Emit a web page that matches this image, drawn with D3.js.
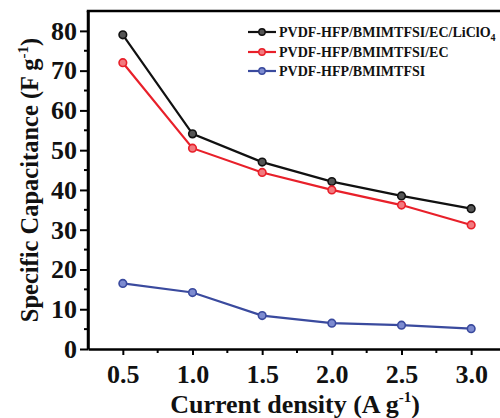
<!DOCTYPE html>
<html><head><meta charset="utf-8">
<script src="https://cdn.jsdelivr.net/npm/d3@7"></script>
<style>body{margin:0;background:#fff;}svg{display:block;}</style>
</head><body><svg id="c" width="500" height="418"></svg>
<script>
const xValues = [0.5, 1.0, 1.5, 2.0, 2.5, 3.0];
const seriesNames = ["PVDF-HFP/BMIMTFSI/EC/LiClO", "PVDF-HFP/BMIMTFSI/EC", "PVDF-HFP/BMIMTFSI"];
const blackValues = [79.0, 54.1, 47.0, 42.1, 38.5, 35.3];
const redValues = [72.0, 50.5, 44.4, 40.0, 36.2, 31.2];
const blueValues = [16.5, 14.2, 8.4, 6.5, 6.0, 5.1];
const xTicks = [0.5, 1.0, 1.5, 2.0, 2.5, 3.0];
const yTicks = [0, 10, 20, 30, 40, 50, 60, 70, 80];
const colors = ["#111111", "#e8202a", "#3a4a9e"];
const fills = ["#555555", "#f27a7f", "#7d8bd0"];

const svg = d3.select("#c");
const L = 88, T = 11, B = 349, R = 506;
const x = d3.scaleLinear().domain([0.25, 3.25]).range([L, R]);
const y = d3.scaleLinear().domain([0, 85]).range([B, T]);
const font = "'Liberation Serif','Times New Roman',serif";

// minor ticks
const xMinor = d3.range(0.75, 3.25, 0.5);
const yMinor = d3.range(5, 85, 10);
const gx = svg.append("g").attr("transform", `translate(0,${B})`)
  .call(d3.axisBottom(x).tickValues(xTicks).tickFormat(d3.format(".1f")).tickSize(6).tickPadding(10).tickSizeOuter(0));
gx.append("g").selectAll("line").data(xMinor).join("line")
  .attr("x1", d => x(d)).attr("x2", d => x(d)).attr("y1", 0).attr("y2", 4)
  .attr("stroke", "#000").attr("stroke-width", 2);
const gy = svg.append("g").attr("transform", `translate(${L},0)`)
  .call(d3.axisLeft(y).tickValues(yTicks).tickSize(8).tickPadding(3).tickSizeOuter(0));
gy.append("g").selectAll("line").data(yMinor).join("line")
  .attr("y1", d => y(d)).attr("y2", d => y(d)).attr("x1", 0).attr("x2", -4)
  .attr("stroke", "#000").attr("stroke-width", 2);
[gx, gy].forEach(g => {
  g.select(".domain").attr("stroke", "#000").attr("stroke-width", 2.5);
  g.selectAll(".tick line").attr("stroke", "#000").attr("stroke-width", 2);
  g.selectAll(".tick text").attr("font-family", font).attr("font-weight", "bold")
    .attr("font-size", 26).attr("fill", "#111");
});
svg.append("line").attr("x1", L).attr("x2", L).attr("y1", T).attr("y2", B)
  .attr("stroke", "#000").attr("stroke-width", 2.5);
svg.append("line").attr("x1", L - 1.25).attr("x2", R).attr("y1", T).attr("y2", T)
  .attr("stroke", "#000").attr("stroke-width", 2.5);

// series
const all = [blackValues, redValues, blueValues];
const line = d3.line().x((d, i) => x(xValues[i])).y(d => y(d));
all.forEach((vals, k) => {
  svg.append("path").datum(vals).attr("d", line).attr("fill", "none")
    .attr("stroke", colors[k]).attr("stroke-width", 2.2);
  svg.append("g").selectAll("circle").data(vals).join("circle")
    .attr("cx", (d, i) => x(xValues[i])).attr("cy", d => y(d)).attr("r", 3.8)
    .attr("fill", fills[k]).attr("stroke", colors[k]).attr("stroke-width", 1.6);
});

// legend
const legY = [32, 52, 71];
seriesNames.forEach((name, k) => {
  const g = svg.append("g").attr("transform", `translate(0,${legY[k]})`);
  g.append("line").attr("x1", 248).attr("x2", 276).attr("stroke", colors[k]).attr("stroke-width", 2.2);
  g.append("circle").attr("cx", 262).attr("r", 3.2).attr("fill", fills[k]).attr("stroke", colors[k]).attr("stroke-width", 1.4);
  const t = g.append("text").attr("x", 279).attr("y", 5).attr("font-family", font)
    .attr("font-weight", "bold").attr("font-size", 14).attr("fill", "#111").text(name);
  if (k === 0) t.append("tspan").attr("font-size", 10).attr("dy", 4).text("4");
});

// axis titles
const xt = svg.append("text").attr("x", 295).attr("y", 413).attr("text-anchor", "middle")
  .attr("font-family", font).attr("font-weight", "bold").attr("font-size", 26).attr("fill", "#111")
  .text("Current density (A g");
xt.append("tspan").attr("font-size", 15).attr("dy", -11).text("-1");
xt.append("tspan").attr("dy", 11).text(")");

const yt = svg.append("text").attr("transform", "translate(38,180) rotate(-90)").attr("text-anchor", "middle")
  .attr("font-family", font).attr("font-weight", "bold").attr("font-size", 24.5).attr("fill", "#111")
  .text("Specific Capacitance (F g");
yt.append("tspan").attr("font-size", 15).attr("dy", -10).text("-1");
yt.append("tspan").attr("dy", 10).text(")");
</script></body></html>
